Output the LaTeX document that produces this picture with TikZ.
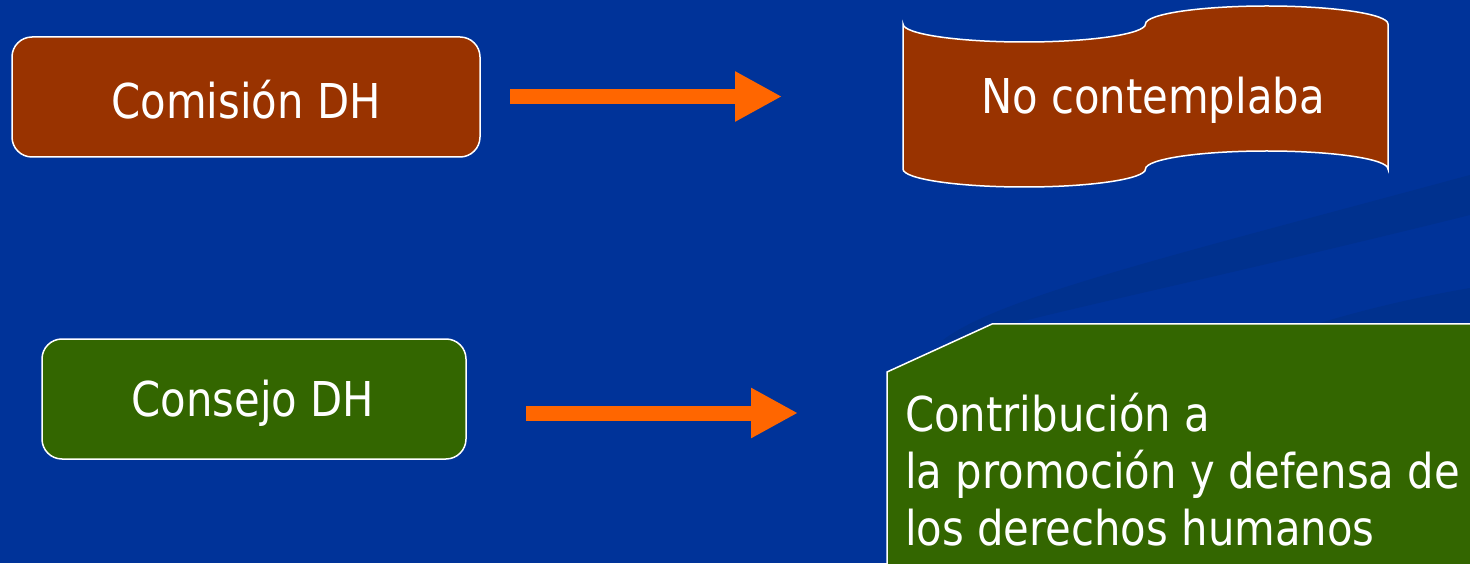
\documentclass[tikz,border=0pt]{standalone}
\usepackage{fontspec}
\setmainfont{DejaVu Sans}[FakeStretch=0.87]
\usetikzlibrary{arrows.meta}
\definecolor{bgblue}{HTML}{003399}
\definecolor{swoosh}{HTML}{00318E}
\definecolor{brownfill}{HTML}{993300}
\definecolor{greenfill}{HTML}{336600}
\definecolor{arroworange}{HTML}{FF6600}
\tikzset{
  boxshape/.style={draw=white, line width=1.5pt, rounded corners=20pt, text=white,
    font=\fontsize{48}{57}\selectfont, inner sep=0pt},
  outline/.style={draw=white, line width=1.5pt},
  blockarrow/.style={draw=arroworange, line width=15pt,
    -{Triangle[length=47pt,width=47pt]}},
  label/.style={text=white, font=\fontsize{48}{57}\selectfont, inner sep=0pt},
}
\begin{document}
\begin{tikzpicture}[x=1pt,y=1pt]
\useasboundingbox (0,0) rectangle (1470,563);
\fill[bgblue] (0,0) rectangle (1470,563);
% background swooshes
\fill[swoosh] (943,223) .. controls (1000,266) and (1167,306) .. (1470,388)
  -- (1470,348) .. controls (1167,273) and (1000,241) .. (960,223) -- cycle;
\fill[swoosh] (1320,240) .. controls (1380,258) and (1430,268) .. (1470,275)
  -- (1470,239) -- cycle;
% top row
\node[boxshape, fill=brownfill, minimum width=468pt, minimum height=120pt]
  (comision) at (246,466) {};
\node[label] (comisiontxt) at (246,463) {Comisión DH};
\coordinate (a1s) at (510,466.5);
\coordinate (a1e) at (782,466.5);
\draw[blockarrow] (a1s) -- (a1e);
\draw[outline, fill=brownfill] (903,539)
  arc[start angle=180, end angle=360, x radius=121.25pt, y radius=18pt]
  arc[start angle=180, end angle=0, x radius=121.25pt, y radius=18pt]
  -- (1388,394)
  arc[start angle=0, end angle=180, x radius=121.25pt, y radius=18pt]
  arc[start angle=0, end angle=-180, x radius=121.25pt, y radius=18pt]
  -- cycle;
\node[label] (nocontempla) at (1153,463) {No contemplaba};
% bottom row
\node[boxshape, fill=greenfill, minimum width=424pt, minimum height=120pt]
  (consejo) at (254,164) {};
\node[label] (consejotxt) at (253,160) {Consejo DH};
\coordinate (a2s) at (526,150);
\coordinate (a2e) at (798,150);
\draw[blockarrow] (a2s) -- (a2e);
\draw[outline, fill=greenfill] (887,-5) -- (887,191) -- (992,239) -- (1480,239)
  -- (1480,-5) -- cycle;
\node[label, anchor=base west, align=left] (contrib) at (905,18)
  {Contribución a\\la promoción y defensa de\\los derechos humanos};
\end{tikzpicture}
\end{document}
